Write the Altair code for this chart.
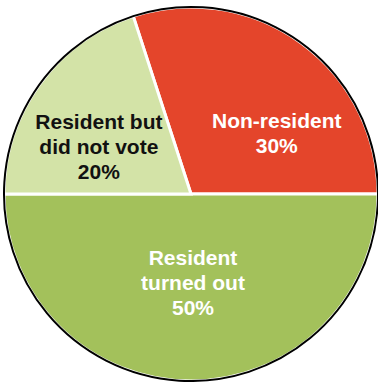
import math
import altair as alt
import pandas as pd

# ---- data ----
categories = ["Non-resident", "Resident turned out", "Resident but did not vote"]
shares = [30, 50, 20]
label_lines = [["Non-resident"], ["Resident", "turned out"], ["Resident but", "did not vote"]]
colors = ["#E4452B", "#A3C15B", "#D3E3A7"]
text_colors = ["white", "white", "#111111"]

df = pd.DataFrame({
    "category": categories,
    "share": shares,
    "idx": list(range(len(categories))),
    "label": ["\n".join(lines + [f"{v}%"]) for lines, v in zip(label_lines, shares)],
})

start = -math.radians(18)
theta_scale = alt.Scale(domain=[0, sum(shares)], range=[start, start + 2 * math.pi])
R = 187

slices = alt.Chart(df).mark_arc(radius=R, stroke="white", strokeWidth=3).encode(
    theta=alt.Theta("share:Q", stack=True, scale=theta_scale),
    order=alt.Order("idx:Q"),
    color=alt.Color("category:N",
                    scale=alt.Scale(domain=categories, range=colors),
                    legend=None),
)

outline = alt.Chart(df).transform_aggregate(
    total="sum(share)"
).mark_arc(radius=R, filled=False, stroke="black", strokeWidth=2).encode(
    theta=alt.Theta("total:Q", stack=True, scale=theta_scale)
)

stacked = alt.Chart(df).transform_stack(
    stack="share", groupby=[], as_=["s0", "s1"], sort=[alt.SortField("idx")]
).transform_calculate(mid="(datum.s0 + datum.s1) / 2")

# label placement per slice: (radius, dx, dy)
placements = {
    "Non-resident": (105, 24, 13),
    "Resident turned out": (88, 2, -23),
    "Resident but did not vote": (104, -8, -10),
}

texts = []
for cat, tc in zip(categories, text_colors):
    r, dx, dy = placements[cat]
    texts.append(
        stacked.transform_filter(alt.datum.category == cat).mark_text(
            radius=r, dx=dx, dy=dy, color=tc,
            font="Liberation Sans", fontWeight="bold", fontSize=21,
            lineBreak="\n", lineHeight=25, align="center", baseline="middle",
        ).encode(
            theta=alt.Theta("mid:Q", stack=None, scale=theta_scale),
            text="label:N",
        )
    )

chart = alt.layer(slices, outline, *texts).properties(
    width=374, height=376,
    padding={"left": 4, "top": 6, "right": 0, "bottom": 0},
    autosize=alt.AutoSizeParams(type="none"),
    background="white",
).configure_view(strokeWidth=0)

chart.save("out.html", embed_options={"renderer": "svg", "actions": False})
